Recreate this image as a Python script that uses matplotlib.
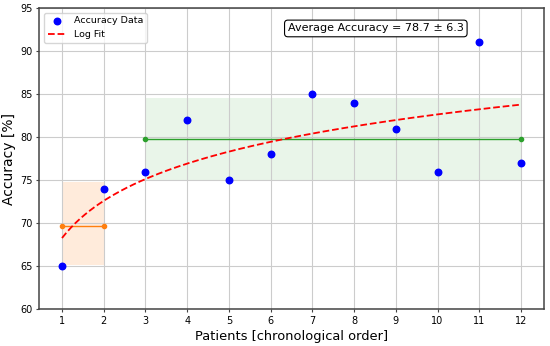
import numpy as np
import matplotlib
matplotlib.use('Agg')
import matplotlib.pyplot as plt

patients = np.arange(1, 13)
accuracy = [65, 74, 76, 82, 75, 78, 85, 84, 81, 76, 91, 77]

# group summaries
early_x = [1, 2]
early_mean = 69.7
early_band = (65.2, 74.8)
late_x = [3, 12]
late_mean = 79.8
late_band = (75.0, 84.5)

acc = np.array(accuracy, dtype=float)
b, a = np.polyfit(np.log(patients), acc, 1)
xfit = np.linspace(1, 12, 200)
yfit = a + b * np.log(xfit)

fig, ax = plt.subplots(figsize=(5.5, 3.46), dpi=100)

ax.fill_between(early_x, early_band[0], early_band[1], color='tab:orange', alpha=0.15, linewidth=0)
ax.fill_between(late_x, late_band[0], late_band[1], color='tab:green', alpha=0.1, linewidth=0)
ax.plot(early_x, [early_mean, early_mean], '-o', color='tab:orange', markersize=3, linewidth=1.0)
ax.plot(late_x, [late_mean, late_mean], '-o', color='tab:green', markersize=3, linewidth=1.0)

ax.scatter(patients, acc, color='blue', s=22, zorder=3, label='Accuracy Data')
ax.plot(xfit, yfit, '--', color='red', linewidth=1.3, label='Log Fit')

ax.text(0.667, 0.932, 'Average Accuracy = %.1f \u00b1 %.1f' % (acc.mean(), acc.std()),
        transform=ax.transAxes, ha='center', va='center', fontsize=8,
        bbox=dict(boxstyle='round,pad=0.3', facecolor='white', edgecolor='black', linewidth=0.8))

ax.set_xlim(0.45, 12.55)
ax.set_ylim(60, 95)
ax.set_xticks(patients)
ax.tick_params(labelsize=7, length=2.5, width=0.8, pad=2, color='#444444')
for sp in ax.spines.values():
    sp.set_color('#444444')
    sp.set_linewidth(1.1)
ax.set_xlabel('Patients [chronological order]', fontsize=9.4, labelpad=3)
ax.set_ylabel('Accuracy [%]', fontsize=10, labelpad=3)
ax.grid(True, color='#cccccc', linewidth=0.8)
ax.legend(loc='upper left', fontsize=6.8)

fig.subplots_adjust(left=0.071, right=0.989, top=0.977, bottom=0.106)
fig.savefig('out.png')
